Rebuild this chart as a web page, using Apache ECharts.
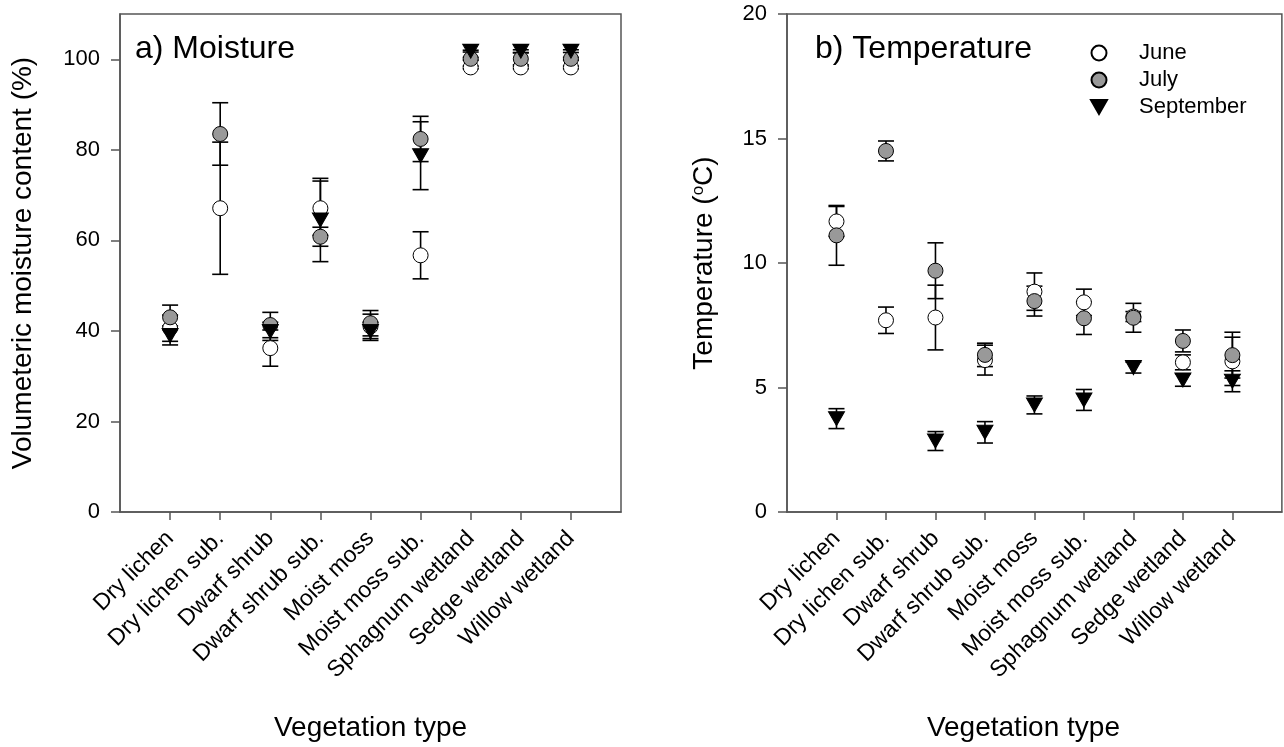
<!DOCTYPE html>
<html>
<head>
<meta charset="utf-8">
<script src="https://cdn.jsdelivr.net/npm/echarts@6.0.0/dist/echarts.min.js"></script>
<style>
  html, body { margin: 0; padding: 0; background: #fff; }
  #main { width: 1284px; height: 747px; }
</style>
</head>
<body>
<div id="main"></div>
<script>
// vegetation types on the x axis
var cats = ['Dry lichen', 'Dry lichen sub.', 'Dwarf shrub', 'Dwarf shrub sub.', 'Moist moss',
  'Moist moss sub.', 'Sphagnum wetland', 'Sedge wetland', 'Willow wetland'];

// a) moisture (%), mean and error
var juneMoist = [40.6, 67.1, 36.2, 67.1, 41.0, 56.7, 98.2, 98.2, 98.2];
var juneMoistErr = [2.9, 14.6, 4.0, 6.0, 2.7, 5.2, 0.3, 0.3, 0.3];
var julyMoist = [43.0, 83.5, 41.3, 60.8, 41.7, 82.4, 100.1, 100.1, 100.1];
var julyMoistErr = [2.7, 6.9, 2.8, 2.1, 2.8, 5.0, 0.3, 1.3, 0.3];
var sepMoist = [39.0, null, 39.9, 64.5, 39.9, 78.7, 101.8, 101.8, 101.8];
var sepMoistErr = [2.1, null, 2.0, 9.2, 2.0, 7.5, 0.2, 0.3, 0.3];

// b) temperature (oC), mean and error
var juneTemp = [11.67, 7.7, 7.81, 6.1, 8.85, 8.42, 7.85, 6.01, 6.05];
var juneTempErr = [0.6, 0.53, 1.3, 0.6, 0.75, 0.53, 0.2, 0.3, 0.97];
var julyTemp = [11.11, 14.5, 9.69, 6.31, 8.47, 7.78, 7.8, 6.87, 6.3];
var julyTempErr = [1.2, 0.4, 1.12, 0.47, 0.6, 0.65, 0.58, 0.44, 0.92];
var sepTemp = [3.75, null, 2.85, 3.2, 4.3, 4.5, 5.8, 5.3, 5.25];
var sepTempErr = [0.4, null, 0.38, 0.43, 0.36, 0.42, 0.22, 0.25, 0.42];

var moistTicks = [0, 20, 40, 60, 80, 100];

(function() {
  var myChart = echarts.init(document.getElementById('main'));
  var font = "'Liberation Sans', Arial, sans-serif";
  var axisColor = '#555';

  // empty slot at both ends so the points sit one step inside the frame
  var xCats = [''].concat(cats).concat(['']);

  function pts(means, errs) {
    var out = [];
    for (var i = 0; i < means.length; i++) {
      if (means[i] == null) continue;
      out.push([i + 1, means[i], errs[i]]);
    }
    return out;
  }

  // vertical error bar with caps
  function renderBars(params, api) {
    var x = api.value(0), m = api.value(1), e = api.value(2);
    var top = api.coord([x, m + e]);
    var bot = api.coord([x, m - e]);
    var w = 8;
    var st = { stroke: '#000', lineWidth: 1.6 };
    return {
      type: 'group',
      children: [
        { type: 'line', shape: { x1: top[0], y1: top[1], x2: bot[0], y2: bot[1] }, style: st },
        { type: 'line', shape: { x1: top[0] - w, y1: top[1], x2: top[0] + w, y2: top[1] }, style: st },
        { type: 'line', shape: { x1: bot[0] - w, y1: bot[1], x2: bot[0] + w, y2: bot[1] }, style: st }
      ]
    };
  }

  var looks = {
    June: { symbol: 'circle', size: 15, rotate: 0, fill: '#ffffff' },
    July: { symbol: 'circle', size: 15, rotate: 0, fill: '#999999' },
    September: { symbol: 'triangle', size: [16, 14], rotate: 180, fill: '#000000' }
  };

  var series = [];
  function addMonth(name, means, errs, idx) {
    var d = pts(means, errs);
    var lk = looks[name];
    series.push({
      name: name + ' err',
      type: 'custom',
      xAxisIndex: idx,
      yAxisIndex: idx,
      renderItem: renderBars,
      encode: { x: 0, y: 1 },
      data: d,
      silent: true
    });
    series.push({
      name: name,
      type: 'scatter',
      xAxisIndex: idx,
      yAxisIndex: idx,
      symbol: lk.symbol,
      symbolSize: lk.size,
      symbolRotate: lk.rotate,
      itemStyle: { color: lk.fill, borderColor: '#000', borderWidth: 1, opacity: 1 },
      data: d.map(function(p) { return [p[0], p[1]]; })
    });
  }
  addMonth('June', juneMoist, juneMoistErr, 0);
  addMonth('July', julyMoist, julyMoistErr, 0);
  addMonth('September', sepMoist, sepMoistErr, 0);
  addMonth('June', juneTemp, juneTempErr, 1);
  addMonth('July', julyTemp, julyTempErr, 1);
  addMonth('September', sepTemp, sepTempErr, 1);

  function xAxis(gridIndex, pad) {
    return {
      type: 'category',
      gridIndex: gridIndex,
      data: xCats,
      boundaryGap: false,
      name: 'Vegetation type',
      nameLocation: 'middle',
      nameGap: 202,
      nameTextStyle: { fontSize: 28, color: '#000', fontFamily: font, padding: pad },
      axisLine: { lineStyle: { color: axisColor, width: 1.5 } },
      axisTick: {
        length: 8,
        interval: function(i) { return i > 0 && i < xCats.length - 1; },
        lineStyle: { color: axisColor, width: 1.5 }
      },
      axisLabel: {
        interval: 0,
        rotate: 45,
        margin: 23,
        fontSize: 23,
        color: '#000',
        fontFamily: font
      },
      splitLine: { show: false }
    };
  }

  var option = {
    animation: false,
    title: [
      { text: 'a) Moisture', left: 135, top: 33, padding: 0,
        textStyle: { fontSize: 32, fontWeight: 'normal', color: '#000', fontFamily: font } },
      { text: 'b) Temperature', left: 815, top: 33, padding: 0,
        textStyle: { fontSize: 32, fontWeight: 'normal', color: '#000', fontFamily: font } }
    ],
    legend: {
      data: [
        { name: 'June' },
        { name: 'July' },
        { name: 'September', icon: 'path://M0,0L16,0L8,14Z' }
      ],
      orient: 'vertical',
      left: 1090,
      top: 42,
      padding: 0,
      itemWidth: 16,
      itemHeight: 15,
      itemGap: 5,
      textStyle: { fontSize: 22, color: '#000', fontFamily: font, padding: [0, 0, 0, 27] }
    },
    grid: [
      { left: 120, top: 14, width: 501, height: 501, show: true, borderColor: axisColor, borderWidth: 1.5 },
      { left: 787, top: 14, width: 501, height: 501, show: true, borderColor: axisColor, borderWidth: 1.5 }
    ],
    xAxis: [xAxis(0, [0, 0, 0, 0]), xAxis(1, [0, 22, 0, 0])],
    yAxis: [
      {
        type: 'value',
        gridIndex: 0,
        min: 0,
        max: 110,
        interval: 20,
        name: 'Volumeteric moisture content (%)',
        nameLocation: 'middle',
        nameGap: 83,
        nameTextStyle: { fontSize: 28, color: '#000', fontFamily: font },
        axisLine: { show: true, lineStyle: { color: axisColor, width: 1.5 } },
        axisTick: { show: true, length: 9, customValues: moistTicks, lineStyle: { color: axisColor, width: 1.5 } },
        axisLabel: { margin: 20, fontSize: 22, color: '#000', fontFamily: font, customValues: moistTicks },
        splitLine: { show: false }
      },
      {
        type: 'value',
        gridIndex: 1,
        min: 0,
        max: 20,
        interval: 5,
        name: 'Temperature ({sup|o}C)',
        nameLocation: 'middle',
        nameGap: 68,
        nameTextStyle: {
          fontSize: 28, color: '#000', fontFamily: font,
          rich: { sup: { fontSize: 17, color: '#000', fontFamily: font, verticalAlign: 'top', padding: [0, 0, 12, 0] } }
        },
        axisLine: { show: true, lineStyle: { color: axisColor, width: 1.5 } },
        axisTick: { show: true, length: 9, lineStyle: { color: axisColor, width: 1.5 } },
        axisLabel: { margin: 20, fontSize: 22, color: '#000', fontFamily: font },
        splitLine: { show: false }
      }
    ],
    series: series
  };

  myChart.setOption(option);
  window.addEventListener('resize', function() {
    myChart.resize();
  });
})();
</script>
</body>
</html>
